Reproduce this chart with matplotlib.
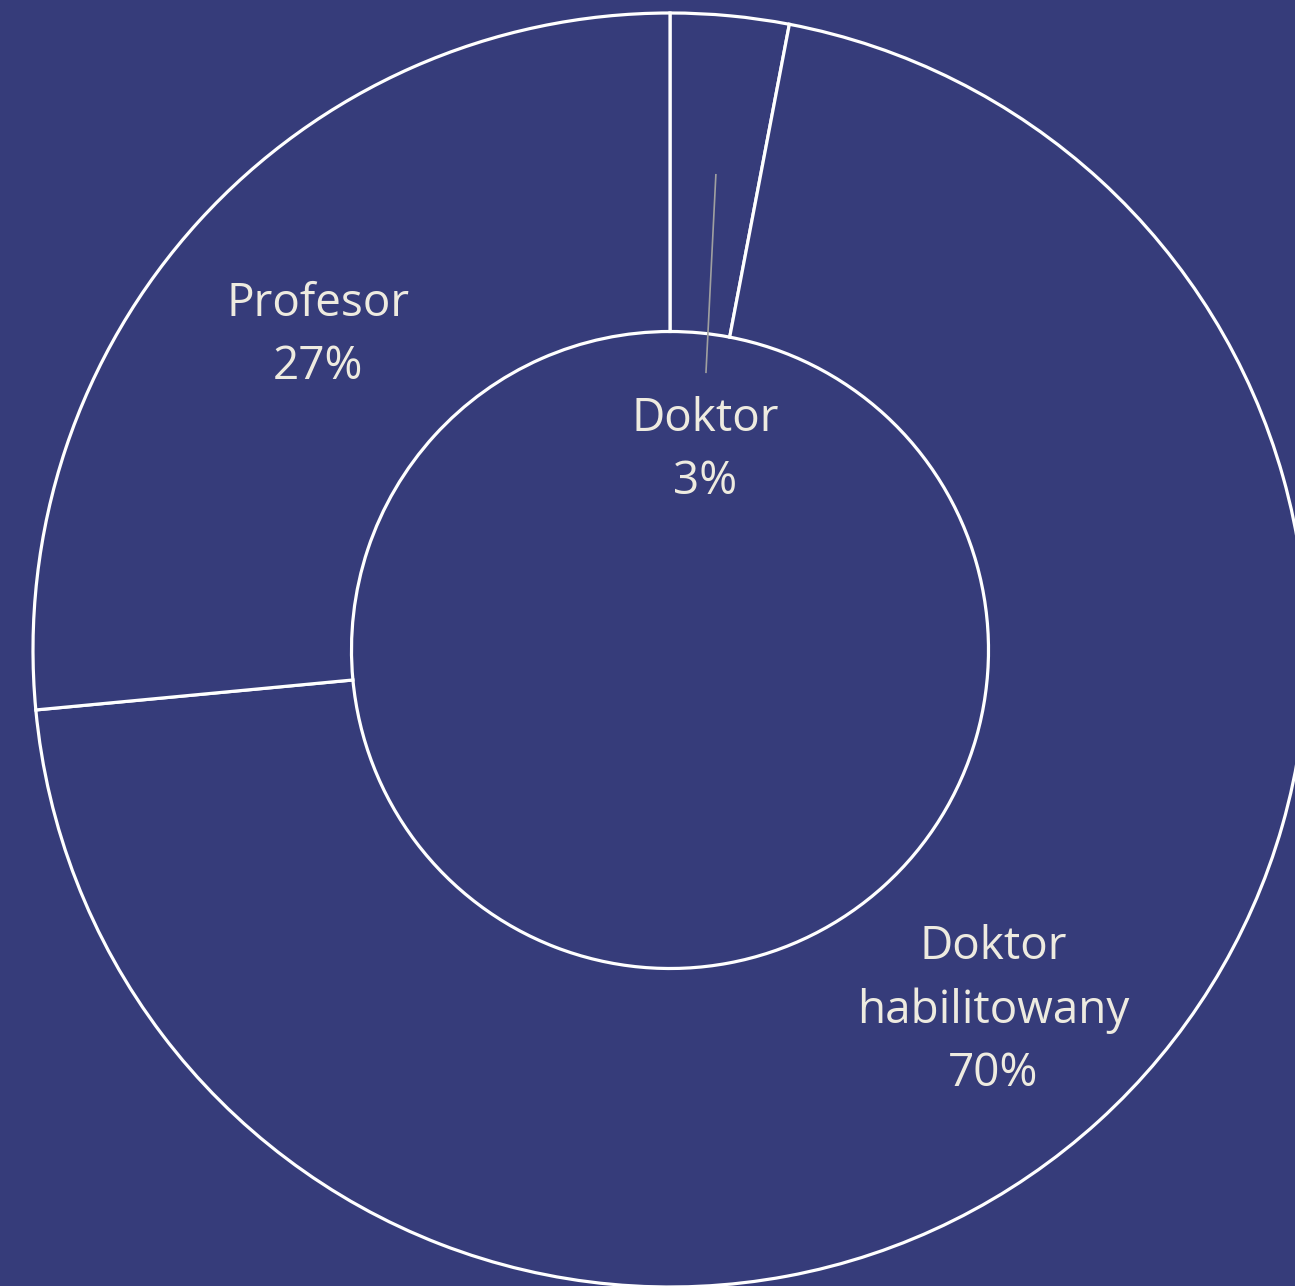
import matplotlib.pyplot as plt

labels = ['Doktor', 'Doktor\nhabilitowany', 'Profesor']
shares = [3.0, 70.5, 26.5]
pct_text = ['3%', '70%', '27%']

bg = '#363c7a'
txt = '#eeebe0'

plt.rcParams['font.family'] = ['Open Sans', 'DejaVu Sans']

fig = plt.figure(figsize=(12.95, 12.86), dpi=100, facecolor=bg)
ax = fig.add_axes([0, 0, 1, 1])
ax.set_facecolor(bg)

ax.pie(shares, startangle=90, counterclock=False, radius=1.0,
       colors=[bg] * len(shares),
       wedgeprops=dict(width=0.5, edgecolor='white', linewidth=2.3))

# label positions (data units, radius = 1)
label_pos = [(0.055, 0.313), (0.507, -0.566), (-0.553, 0.494)]
for lab, pct, (x, y) in zip(labels, pct_text, label_pos):
    ax.text(x, y, f'{lab}\n{pct}', ha='center', va='center',
            color=txt, fontsize=33, linespacing=1.5)

# leader line for the small slice
ax.plot([0.072, 0.0565], [0.746, 0.436], color='#a0a0a0', lw=1.2)

ax.set_xlim(-670 / 637, (1295 - 670) / 637)
ax.set_ylim(-(1286 - 650) / 637, 650 / 637)
ax.set_aspect('equal')
ax.axis('off')

fig.savefig('out.png', dpi=100, facecolor=bg)
